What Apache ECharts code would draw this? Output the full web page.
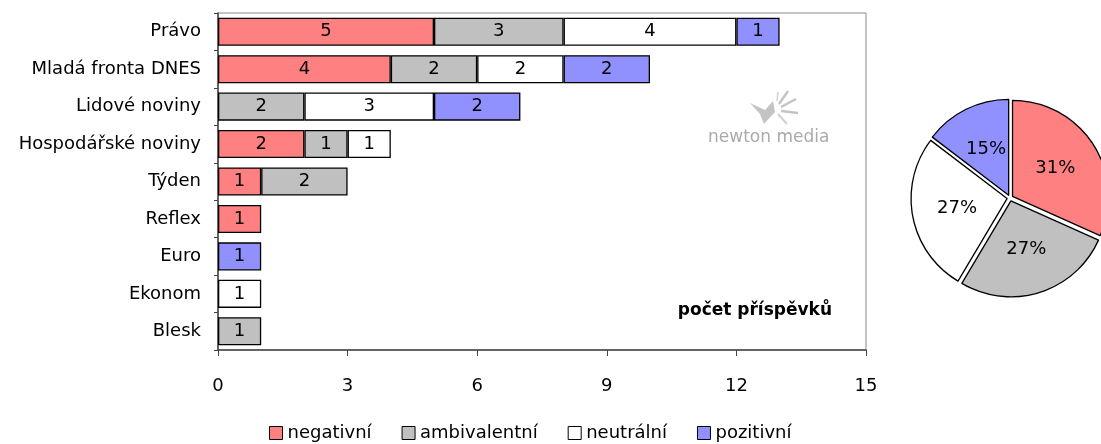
<!DOCTYPE html>
<html>
<head>
<meta charset="utf-8">
<script src="https://cdn.jsdelivr.net/npm/echarts@6/dist/echarts.min.js"></script>
<style>
  html, body { margin: 0; padding: 0; background: #fff; }
  #chart { width: 1101px; height: 444px; }
</style>
</head>
<body>
<div id="chart"></div>
<script>
// data
var media = ['Právo', 'Mladá fronta DNES', 'Lidové noviny', 'Hospodářské noviny', 'Týden', 'Reflex', 'Euro', 'Ekonom', 'Blesk'];
var negativni = [5, 4, 0, 2, 1, 1, 0, 0, 0];
var ambivalentni = [3, 2, 2, 1, 2, 0, 0, 0, 1];
var neutralni = [4, 2, 3, 1, 0, 0, 0, 1, 0];
var pozitivni = [1, 2, 2, 0, 0, 0, 1, 0, 0];
var xTicks = [0, 3, 6, 9, 12, 15];
var pieValues = [13, 11, 11, 6];
var pieLabels = ['31%', '27%', '27%', '15%'];

var names = ['negativní', 'ambivalentní', 'neutrální', 'pozitivní'];
var colors = ['#FF8080', '#C0C0C0', '#FFFFFF', '#9090FF'];
var FONT = 'DejaVu Sans';
var FS = 18;

var chart = echarts.init(document.getElementById('chart'));

function barSeries(name, values, color) {
  return {
    name: name,
    type: 'bar',
    stack: 'total',
    barCategoryGap: '25%',
    data: values.map(function (v) { return v === 0 ? null : v; }),
    itemStyle: { color: color, borderColor: '#000', borderWidth: 1.3 },
    label: {
      show: true,
      position: 'inside',
      color: '#000',
      fontFamily: FONT,
      fontSize: FS,
      formatter: function (p) { return p.value ? p.value : ''; }
    },
    emphasis: { disabled: true },
    silent: true
  };
}

var option = {
  animation: false,
  color: colors,
  textStyle: { fontFamily: FONT },
  grid: { left: 218, right: 235, top: 13, bottom: 94, show: true, borderColor: '#888', borderWidth: 1 },
  legend: {
    bottom: -3,
    left: 264,
    itemWidth: 13,
    itemHeight: 13,
    itemGap: 30,
    icon: 'rect',
    data: names,
    itemStyle: { borderColor: '#000', borderWidth: 1 },
    textStyle: { fontFamily: FONT, fontSize: FS, color: '#000' }
  },
  xAxis: {
    type: 'value',
    min: xTicks[0],
    max: xTicks[xTicks.length - 1],
    interval: 3,
    splitLine: { show: false },
    axisLine: { show: true, lineStyle: { color: '#444', width: 1.5 } },
    axisTick: { show: true, length: 6, lineStyle: { color: '#444' } },
    axisLabel: { color: '#000', fontFamily: FONT, fontSize: FS, margin: 27 }
  },
  yAxis: {
    type: 'category',
    inverse: true,
    data: media,
    axisLine: { show: true, lineStyle: { color: '#444', width: 1.5 } },
    axisTick: { show: true, length: 4, lineStyle: { color: '#444' } },
    axisLabel: { color: '#000', fontFamily: FONT, fontSize: FS, margin: 17 }
  },
  series: [
    barSeries(names[0], negativni, colors[0]),
    barSeries(names[1], ambivalentni, colors[1]),
    barSeries(names[2], neutralni, colors[2]),
    barSeries(names[3], pozitivni, colors[3]),
    {
      type: 'pie',
      center: [1010, 198],
      radius: 96,
      startAngle: 90,
      clockwise: true,
      selectedMode: 'multiple',
      selectedOffset: 3,
      silent: true,
      legendHoverLink: false,
      data: pieValues.map(function (v, i) {
        return { name: names[i], value: v, selected: true, itemStyle: { color: colors[i] } };
      }),
      itemStyle: { borderColor: '#000', borderWidth: 1.3 },
      label: {
        show: true,
        position: 'inner',
        color: '#000',
        fontFamily: FONT,
        fontSize: FS,
        formatter: function (p) { return pieLabels[p.dataIndex]; }
      },
      labelLine: { show: false },
      emphasis: { disabled: true }
    }
  ],
  graphic: [
    // watermark logo, rough
    {
      type: 'polygon',
      shape: { points: [[750, 103], [765, 110], [773, 101], [775, 112], [764, 124], [760, 114]] },
      style: { fill: '#c4c4c4' }
    },
    {
      type: 'group',
      children: [
        { type: 'line', shape: { x1: 779, y1: 104, x2: 788, y2: 91 }, style: { stroke: '#c4c4c4', lineWidth: 2.5 } },
        { type: 'line', shape: { x1: 781, y1: 107, x2: 796, y2: 99 }, style: { stroke: '#c4c4c4', lineWidth: 2.5 } },
        { type: 'line', shape: { x1: 781, y1: 111, x2: 798, y2: 113 }, style: { stroke: '#c4c4c4', lineWidth: 2.5 } },
        { type: 'line', shape: { x1: 778, y1: 114, x2: 787, y2: 124 }, style: { stroke: '#d0d0d0', lineWidth: 2 } },
        { type: 'line', shape: { x1: 777, y1: 101, x2: 778, y2: 92 }, style: { stroke: '#d0d0d0', lineWidth: 1.5 } }
      ]
    },
    {
      type: 'text',
      left: 708,
      top: 129,
      style: { text: 'newton media', fill: '#aaa', font: '17px "DejaVu Sans"' }
    },
    {
      type: 'text',
      right: 1101 - 832,
      top: 302,
      style: { text: 'počet příspěvků', fill: '#000', font: 'bold 17px "DejaVu Sans"' }
    }
  ]
};

chart.setOption(option);
</script>
</body>
</html>
